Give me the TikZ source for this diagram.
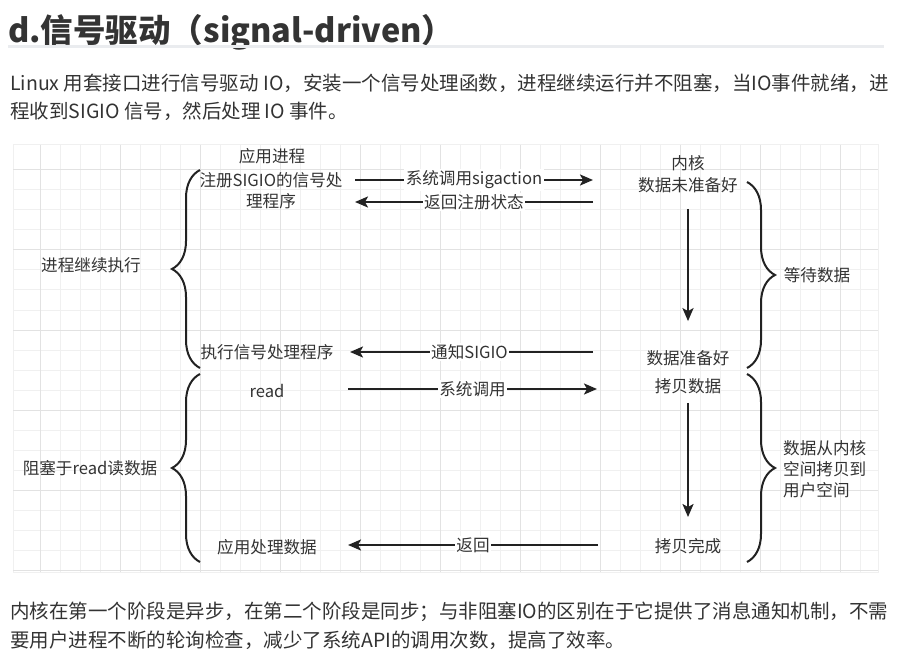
\documentclass[tikz,border=0pt]{standalone}
\usepackage{fontspec}
\setmainfont{Noto Sans CJK SC}
\usepackage{xcolor}
\definecolor{cText}{HTML}{333333}
\definecolor{cLine}{HTML}{222222}
\definecolor{cGrid}{HTML}{F0F0F0}
\definecolor{cGridMajor}{HTML}{E2E2E2}
\definecolor{cRule}{HTML}{EAECEF}
\usepackage{tikz}
\usetikzlibrary{positioning,arrows.meta,decorations.pathreplacing}
\tikzset{
  node-title/.style={anchor=base west,inner sep=0pt,text=cText,
    font=\fontsize{32.5}{36}\selectfont\bfseries},
  node-para/.style={anchor=west,inner sep=0pt,text=cText,
    font=\fontsize{19.5}{24}\selectfont},
  node-label/.style={inner sep=1pt,text=cText,align=center,
    font=\fontsize{16.6}{21}\selectfont},
  node-edge/.style={node-label,fill=white,inner sep=1.5pt},
  arrow/.style={-{Stealth[length=13pt,width=11pt,inset=3pt]},line width=2.2pt,draw=cLine},
  brace-side/.style={decorate,decoration={brace,amplitude=28pt},line width=2pt,draw=cLine},
  grid-minor/.style={draw=cGrid,line width=1pt},
  grid-major/.style={draw=cGridMajor,line width=1pt},
}

\begin{document}
\begin{tikzpicture}[x=1pt,y=-1pt]
  \useasboundingbox (0,0) rectangle (902,668);
  % 标题与说明
  \node[node-title] (title) at (8,43) {d.信号驱动（signal-driven）};
  \draw[draw=cRule,line width=3pt] (8,47) -- (884,47);
  \node[node-para] (para1) at (10,83) {Linux 用套接口进行信号驱动 IO，安装一个信号处理函数，进程继续运行并不阻塞，当IO事件就绪，进};
  \node[node-para] (para2) at (10,111) {程收到SIGIO 信号，然后处理 IO 事件。};

  % 背景网格
  \draw[grid-minor] (13,145) rectangle (878,572);
  \foreach \gx in {40,60,...,860} \draw[grid-minor] (\gx,145) -- (\gx,572);
  \foreach \gy in {170,190,...,550} \draw[grid-minor] (13,\gy) -- (878,\gy);
  \foreach \gx in {40,120,...,840} \draw[grid-major] (\gx,145) -- (\gx,572);
  \foreach \gy in {170,250,...,570} \draw[grid-major] (13,\gy) -- (878,\gy);

  % 应用进程一侧
  \node[node-label] (app) at (272,156) {应用进程};
  \node[node-label] (reg) at (271,191) {注册SIGIO的信号处\\理程序};
  \node[node-label] (exec) at (267,352) {执行信号处理程序};
  \node[node-label] (read) at (267,391) {read};
  \node[node-label] (appdata) at (267,547) {应用处理数据};
  \node[node-label] (cont) at (91,265) {进程继续执行};
  \node[node-label] (block) at (90,468) {阻塞于read读数据};

  % 内核一侧
  \node[node-label] (kern) at (688,163) {内核};
  \node[node-label] (notready) at (688,185) {数据未准备好};
  \node[node-label] (ready) at (688,358) {数据准备好};
  \node[node-label] (copy) at (688,386) {拷贝数据};
  \node[node-label] (copied) at (688,546) {拷贝完成};
  \node[node-label] (wait) at (817,275) {等待数据};
  \node[node-label,anchor=west,align=left] (kcopy) at (782,469) {数据从内核\\空间拷贝到\\用户空间};

  % 调用与返回
  \coordinate (callL) at (355,180);  \coordinate (callR) at (593,180);
  \coordinate (backL) at (355,202);  \coordinate (backR) at (593,202);
  \coordinate (sigL) at (350,352);   \coordinate (sigR) at (593,352);
  \coordinate (readL) at (348,389);  \coordinate (readR) at (597,389);
  \coordinate (retL) at (348,545);   \coordinate (retR) at (598,545);
  \draw[arrow] (callL) -- node[node-edge] {系统调用sigaction} (callR);
  \draw[arrow] (backR) -- node[node-edge] {返回注册状态} (backL);
  \draw[arrow] (sigR) -- node[node-edge,xshift=-2pt] {通知SIGIO} (sigL);
  \draw[arrow] (readL) -- node[node-edge] {系统调用} (readR);
  \draw[arrow] (retR) -- node[node-edge] {返回} (retL);
  \draw[arrow,shorten <=15pt,shorten >=28pt] (notready) -- (ready);
  \draw[arrow,shorten <=8pt,shorten >=20pt] (copy) -- (copied);

  % 大括号
  \draw[brace-side] (200,368) -- (200,170);
  \draw[brace-side] (200,562) -- (200,374);
  \draw[brace-side] (747,182) -- (747,368);
  \draw[brace-side] (747,374) -- (747,562);

  % 总结
  \node[node-para] (sum1) at (10,612) {内核在第一个阶段是异步，在第二个阶段是同步；与非阻塞IO的区别在于它提供了消息通知机制，不需};
  \node[node-para] (sum2) at (10,640) {要用户进程不断的轮询检查，减少了系统API的调用次数，提高了效率。};
\end{tikzpicture}
\end{document}
